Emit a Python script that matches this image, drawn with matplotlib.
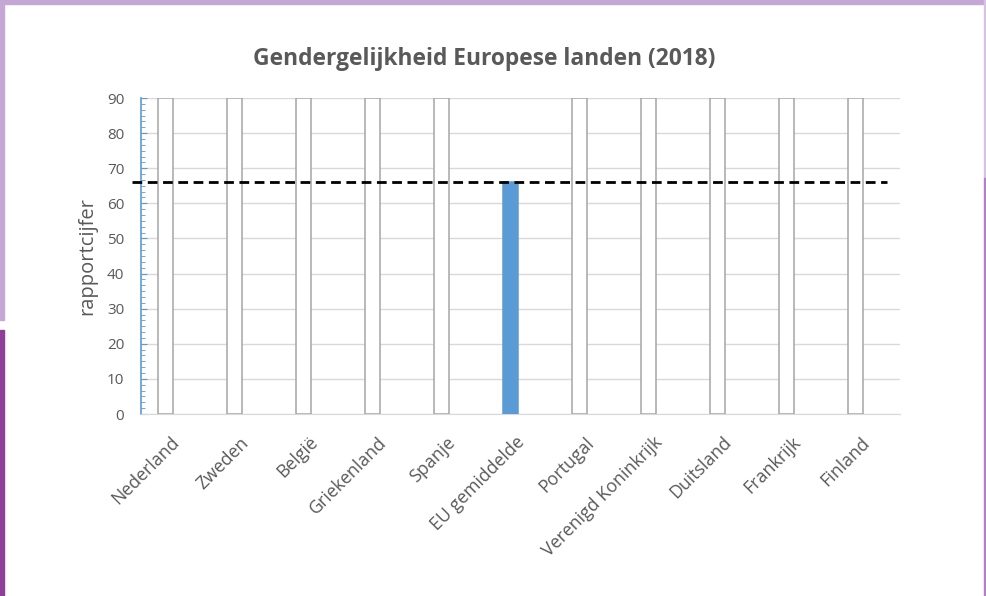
import matplotlib
matplotlib.use("Agg")
import matplotlib.pyplot as plt
import matplotlib.transforms as mtransforms
from matplotlib.patches import Rectangle
from matplotlib.ticker import AutoMinorLocator

categories = ["Nederland", "Zweden", "België", "Griekenland", "Spanje",
              "EU gemiddelde", "Portugal", "Verenigd Koninkrijk", "Duitsland",
              "Frankrijk", "Finland"]
values = [90, 90, 90, 90, 90, 66.2, 90, 90, 90, 90, 90]
eu_average = 66.2
y_ticks = [0, 10, 20, 30, 40, 50, 60, 70, 80, 90]

plt.rcParams['font.family'] = ['Open Sans', 'DejaVu Sans']

W, H = 987, 596
fig = plt.figure(figsize=(W / 100, H / 100), dpi=100)
fig.patch.set_facecolor("white")

ax = fig.add_axes([141 / W, (H - 414) / H, (900 - 141) / W, (414 - 98) / H])

x = list(range(len(categories)))
colors = ["#5b9bd5" if c == "EU gemiddelde" else "white" for c in categories]
edges = ["#5b9bd5" if c == "EU gemiddelde" else "#a6a6a6" for c in categories]
ax.bar(x, values, width=0.23, color=colors, edgecolor=edges, linewidth=1.1, zorder=3)

ax.set_xlim(-0.355, 10.645)
ax.set_ylim(0, 90)
ax.set_yticks(y_ticks)
ax.yaxis.set_minor_locator(AutoMinorLocator(6))
ax.grid(axis="y", color="#d9d9d9", linewidth=1, zorder=0)
ax.set_axisbelow(True)

for s in ["top", "right"]:
    ax.spines[s].set_visible(False)
ax.spines["bottom"].set_color("#d9d9d9")
ax.spines["left"].set_color("#5b9bd5")
ax.spines["left"].set_linewidth(1.2)

ax.tick_params(axis="y", which="major", direction="in", length=4, color="#5b9bd5",
               labelcolor="#595959", labelsize=11, pad=12)
ax.tick_params(axis="y", which="minor", direction="in", length=3, color="#5b9bd5")
ax.tick_params(axis="x", length=0, labelcolor="#595959", labelsize=12.8, pad=14)

ax.set_xticks(x)
ax.set_xticklabels(categories, rotation=45, ha="right", va="top", rotation_mode="anchor")
offset = mtransforms.ScaledTranslation(5 / 100, 0, fig.dpi_scale_trans)
for lbl in ax.get_xticklabels():
    lbl.set_transform(lbl.get_transform() + offset)

ax.set_ylabel("rapportcijfer", color="#595959", fontsize=14.5, labelpad=7)

# EU average dashed line
ax.plot([-0.48, 10.45], [eu_average, eu_average], linestyle=(0, (3.5, 2)),
        color="black", linewidth=2, zorder=4, clip_on=False)

fig.text(484 / W, 1 - 59 / H, "Gendergelijkheid Europese landen (2018)",
         ha="center", va="center", fontsize=16.4, fontweight="bold", color="#595959")

# decorative borders
def frect(x0, y0, w, h, c):
    fig.patches.append(Rectangle((x0 / W, 1 - (y0 + h) / H), w / W, h / H,
                                 transform=fig.transFigure, color=c, zorder=10))

frect(0, 0, W, 4, "#c4a7d6")
frect(0, 0, 4, 320, "#c4a7d6")
frect(0, 330, 4, H - 330, "#8e3f98")
frect(W - 3, 0, 3, 178, "#d6c2e2")
frect(W - 3, 178, 3, H - 178, "#b57fc7")

fig.savefig("out.png", dpi=100)
